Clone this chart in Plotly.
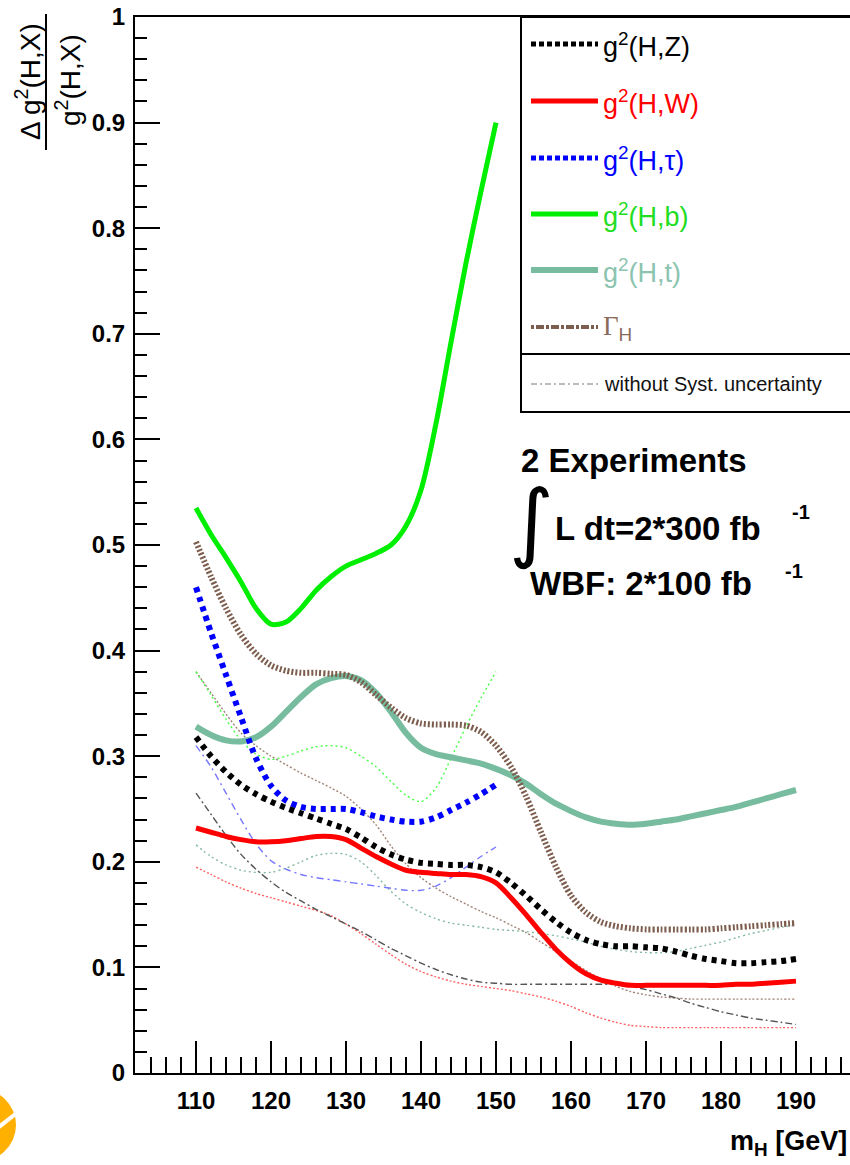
import plotly.graph_objects as go

# ---------------- data ----------------
mass_full = list(range(110, 191, 2))
mass_short = list(range(110, 151, 2))

# with systematic uncertainty (thick lines)
g2_HZ = [0.318, 0.300, 0.285, 0.273, 0.264, 0.257, 0.251, 0.246, 0.241, 0.236,
         0.231, 0.223, 0.214, 0.207, 0.202, 0.199, 0.198, 0.197, 0.197, 0.195,
         0.190, 0.180, 0.168, 0.155, 0.143, 0.133, 0.126, 0.122, 0.120, 0.120,
         0.119, 0.118, 0.115, 0.111, 0.108, 0.106, 0.104, 0.104, 0.105, 0.106, 0.108]
g2_HW = [0.232, 0.228, 0.224, 0.221, 0.219, 0.219, 0.220, 0.222, 0.224, 0.224,
         0.221, 0.213, 0.205, 0.198, 0.192, 0.190, 0.189, 0.188, 0.188, 0.186,
         0.180, 0.166, 0.150, 0.133, 0.117, 0.104, 0.094, 0.088, 0.085, 0.083,
         0.083, 0.083, 0.083, 0.083, 0.083, 0.083, 0.084, 0.084, 0.085, 0.086, 0.087]
g2_Htau = [0.460, 0.417, 0.377, 0.337, 0.298, 0.272, 0.258, 0.252, 0.250, 0.250,
           0.250, 0.247, 0.243, 0.240, 0.238, 0.238, 0.242, 0.249, 0.256, 0.264, 0.273]
g2_Hb = [0.535, 0.510, 0.488, 0.465, 0.440, 0.425, 0.427, 0.440, 0.457, 0.470,
         0.480, 0.486, 0.492, 0.500, 0.518, 0.552, 0.615, 0.692, 0.767, 0.835, 0.900]
g2_Ht = [0.328, 0.320, 0.315, 0.314, 0.318, 0.328, 0.342, 0.356, 0.368, 0.374,
         0.376, 0.372, 0.360, 0.342, 0.322, 0.308, 0.302, 0.299, 0.296, 0.293,
         0.288, 0.282, 0.274, 0.264, 0.255, 0.248, 0.242, 0.238, 0.236, 0.235,
         0.236, 0.238, 0.240, 0.243, 0.246, 0.249, 0.252, 0.256, 0.260, 0.264, 0.268]
Gamma_H = [0.503, 0.470, 0.440, 0.415, 0.397, 0.386, 0.381, 0.379, 0.379, 0.378,
           0.377, 0.370, 0.358, 0.346, 0.336, 0.331, 0.330, 0.330, 0.329, 0.323,
           0.310, 0.290, 0.262, 0.228, 0.195, 0.168, 0.152, 0.143, 0.139, 0.137,
           0.136, 0.136, 0.136, 0.136, 0.136, 0.137, 0.138, 0.139, 0.140, 0.141, 0.142]

# without systematic uncertainty (thin lines)
g2_HZ_nosyst = [0.265, 0.245, 0.225, 0.207, 0.193, 0.181, 0.171, 0.163, 0.155, 0.148,
                0.141, 0.134, 0.126, 0.118, 0.111, 0.104, 0.098, 0.093, 0.089, 0.086,
                0.085, 0.084, 0.084, 0.084, 0.084, 0.084, 0.084, 0.084, 0.084, 0.082,
                0.079, 0.075, 0.071, 0.066, 0.062, 0.058, 0.055, 0.052, 0.050, 0.048, 0.046]
g2_HW_nosyst = [0.195, 0.188, 0.181, 0.175, 0.170, 0.166, 0.162, 0.158, 0.154, 0.149,
                0.141, 0.132, 0.122, 0.112, 0.103, 0.096, 0.091, 0.087, 0.084, 0.082,
                0.080, 0.078, 0.075, 0.072, 0.068, 0.063, 0.057, 0.052, 0.048, 0.045,
                0.044, 0.043, 0.043, 0.043, 0.043, 0.043, 0.043, 0.043, 0.043, 0.043, 0.043]
g2_Htau_nosyst = [0.310, 0.290, 0.265, 0.240, 0.217, 0.201, 0.193, 0.188, 0.185, 0.183,
                  0.181, 0.179, 0.177, 0.175, 0.173, 0.173, 0.177, 0.185, 0.195, 0.205, 0.214]
g2_Hb_nosyst = [0.380, 0.358, 0.335, 0.315, 0.302, 0.297, 0.300, 0.305, 0.309, 0.310,
                0.308, 0.300, 0.290, 0.276, 0.263, 0.257, 0.270, 0.298, 0.328, 0.355, 0.380]
g2_Ht_nosyst = [0.216, 0.205, 0.197, 0.192, 0.190, 0.190, 0.194, 0.200, 0.206, 0.208,
                0.207, 0.200, 0.187, 0.172, 0.160, 0.152, 0.146, 0.142, 0.140, 0.138,
                0.136, 0.135, 0.134, 0.132, 0.130, 0.127, 0.124, 0.120, 0.117, 0.115,
                0.114, 0.114, 0.115, 0.118, 0.121, 0.124, 0.128, 0.132, 0.135, 0.138, 0.140]
Gamma_H_nosyst = [0.380, 0.360, 0.340, 0.322, 0.310, 0.300, 0.292, 0.284, 0.277, 0.270,
                  0.262, 0.250, 0.235, 0.215, 0.198, 0.185, 0.175, 0.167, 0.160, 0.153,
                  0.147, 0.140, 0.133, 0.124, 0.115, 0.106, 0.097, 0.089, 0.082, 0.077,
                  0.074, 0.072, 0.071, 0.070, 0.070, 0.070, 0.070, 0.070, 0.070, 0.070, 0.070]

x_ticks = [110, 120, 130, 140, 150, 160, 170, 180, 190]

# ---------------- styling ----------------
FIG_W, FIG_H = 850, 1165
L, R, T, B = 135, 850, 17, 1073
X_AT_L = 110 - (196 - L) / 7.5
X_AT_R = 110 + (R - 196) / 7.5

C_Z, C_W, C_TAU, C_B, C_T, C_G = "#000000", "#ff0000", "#0000ff", "#00ee00", "#77bc9e", "#7d5e4e"
SANS = "Liberation Sans, Arial, sans-serif"


def px(x):
    return (x - L) / (R - L)


def py(y):
    return (B - y) / (B - T)


fig = go.Figure()

thin = [
    (mass_full, Gamma_H_nosyst, "#a08476", "2px,2px"),
    (mass_full, g2_Ht_nosyst, "#86b9a2", "2px,3px"),
    (mass_short, g2_Hb_nosyst, "#44ff44", "2px,3px"),
    (mass_short, g2_Htau_nosyst, "#7777ff", "7px,4px,2px,4px"),
    (mass_full, g2_HW_nosyst, "#ff6060", "2px,2px"),
    (mass_full, g2_HZ_nosyst, "#555555", "7px,3px,2px,3px"),
]
for xs, ys, col, dash in thin:
    fig.add_trace(go.Scatter(x=xs, y=ys, mode="lines",
                             line=dict(color=col, width=1.4, dash=dash, shape="spline", smoothing=0.8),
                             hoverinfo="skip"))

thick = [
    (mass_full, g2_Ht, C_T, 6, "solid"),
    (mass_full, Gamma_H, C_G, 6, "2px,2px"),
    (mass_short, g2_Hb, C_B, 5, "solid"),
    (mass_short, g2_Htau, C_TAU, 6, "5px,5px"),
    (mass_full, g2_HW, C_W, 5, "solid"),
    (mass_full, g2_HZ, C_Z, 6, "5px,5px"),
]
for xs, ys, col, w, dash in thick:
    fig.add_trace(go.Scatter(x=xs, y=ys, mode="lines",
                             line=dict(color=col, width=w, dash=dash, shape="spline", smoothing=0.8),
                             hoverinfo="skip"))

shapes = []
annotations = []

# legend box
lx0, ly0, ly1, ldiv = 521, 17, 412, 354
shapes.append(dict(type="rect", xref="paper", yref="paper", x0=px(lx0), x1=px(870), y0=py(ly1), y1=py(ly0),
                   line=dict(color="black", width=2), fillcolor="white", layer="above"))
shapes.append(dict(type="line", xref="paper", yref="paper", x0=px(lx0), x1=px(870), y0=py(ldiv), y1=py(ldiv),
                   line=dict(color="black", width=2), layer="above"))

leg = [
    ("g<sup>2</sup>(H,Z)", C_Z, C_Z, 5, "5px,3px"),
    ("g<sup>2</sup>(H,W)", C_W, C_W, 5, "solid"),
    ("g<sup>2</sup>(H,τ)", C_TAU, C_TAU, 5, "5px,3px"),
    ("g<sup>2</sup>(H,b)", C_B, "#22dd22", 5, "solid"),
    ("g<sup>2</sup>(H,t)", C_T, "#8cc4b0", 6, "solid"),
    ("<span style='font-family:Liberation Serif'>Γ</span><sub>H</sub>", C_G, "#8a6a5a", 4, "3px,2px,8px,2px"),
]
ys_leg = [44, 101, 158, 214, 270, 327]
for (txt, lc, tc, w, dash), yy in zip(leg, ys_leg):
    shapes.append(dict(type="line", xref="paper", yref="paper", x0=px(531), x1=px(598), y0=py(yy), y1=py(yy),
                       line=dict(color=lc, width=w, dash=dash), layer="above"))
    annotations.append(dict(xref="paper", yref="paper", x=px(601), y=py(yy + 1), text=txt, showarrow=False,
                            xanchor="left", yanchor="middle", font=dict(family=SANS, size=27, color=tc)))
shapes.append(dict(type="line", xref="paper", yref="paper", x0=px(531), x1=px(598), y0=py(384), y1=py(384),
                   line=dict(color="#777777", width=1, dash="6px,3px,2px,3px"), layer="above"))
annotations.append(dict(xref="paper", yref="paper", x=px(602), y=py(384), text="without Syst. uncertainty",
                        showarrow=False, xanchor="left", yanchor="middle",
                        font=dict(family=SANS, size=20, color="#111111")))

# info text
BOLD = dict(family=SANS, size=33, color="black")
annotations += [
    dict(xref="paper", yref="paper", x=px(519), y=py(461), text="<b>2 Experiments</b>", showarrow=False,
         xanchor="left", yanchor="middle", font=BOLD),
    dict(xref="paper", yref="paper", x=px(531), y=py(521), text="∫", showarrow=False,
         xanchor="center", yanchor="middle", font=dict(family="DejaVu Sans", size=86, color="black")),
    dict(xref="paper", yref="paper", x=px(553), y=py(528), text="<b>L dt=2*300 fb</b>", showarrow=False,
         xanchor="left", yanchor="middle", font=BOLD),
    dict(xref="paper", yref="paper", x=px(790), y=py(512), text="<b>-1</b>", showarrow=False,
         xanchor="left", yanchor="middle", font=dict(family=SANS, size=20, color="black")),
    dict(xref="paper", yref="paper", x=px(528), y=py(583), text="<b>WBF: 2*100 fb</b>", showarrow=False,
         xanchor="left", yanchor="middle", font=BOLD),
    dict(xref="paper", yref="paper", x=px(783), y=py(571), text="<b>-1</b>", showarrow=False,
         xanchor="left", yanchor="middle", font=dict(family=SANS, size=20, color="black")),
    # x title
    dict(xref="paper", yref="paper", x=px(849), y=py(1143), text="<b>m<sub>H</sub> [GeV]</b>", showarrow=False,
         xanchor="right", yanchor="middle", font=dict(family=SANS, size=27, color="black")),
    # y title (fraction)
    dict(xref="paper", yref="paper", x=px(28), y=py(82), text="Δ g<sup>2</sup>(H,X)", showarrow=False,
         textangle=-90, xanchor="center", yanchor="middle", font=dict(family=SANS, size=28, color="black")),
    dict(xref="paper", yref="paper", x=px(68), y=py(80), text="g<sup>2</sup>(H,X)", showarrow=False,
         textangle=-90, xanchor="center", yanchor="middle", font=dict(family=SANS, size=28, color="black")),
]
shapes.append(dict(type="line", xref="paper", yref="paper", x0=px(46), x1=px(46), y0=py(150), y1=py(14),
                   line=dict(color="black", width=2)))

# orange logo fragment in the bottom-left corner
shapes.append(dict(type="circle", xref="paper", yref="paper", x0=px(-62), x1=px(16), y0=py(1162), y1=py(1088),
                   fillcolor="#ffb000", line=dict(width=0)))
shapes.append(dict(type="line", xref="paper", yref="paper", x0=px(-5), x1=px(18), y0=py(1130), y1=py(1112),
                   line=dict(color="white", width=4)))

fig.update_layout(
    width=FIG_W, height=FIG_H,
    margin=dict(l=L, r=FIG_W - R, t=T, b=FIG_H - B, pad=0),
    paper_bgcolor="white", plot_bgcolor="white",
    showlegend=False,
    shapes=shapes, annotations=annotations,
    xaxis=dict(range=[X_AT_L, X_AT_R], showgrid=False, zeroline=False,
               showline=True, linecolor="black", linewidth=2, mirror=True,
               tickmode="array", tickvals=x_ticks, ticktext=[f"<b>{v}</b>" for v in x_ticks],
               ticks="inside", ticklen=32, tickwidth=2, tickcolor="black",
               ticklabelstandoff=5,
               tickfont=dict(family=SANS, size=24, color="black"),
               minor=dict(ticks="inside", dtick=2, tick0=110, ticklen=16, tickwidth=1.5, tickcolor="black")),
    yaxis=dict(range=[0, 1], showgrid=False, zeroline=False,
               showline=True, linecolor="black", linewidth=2, mirror=False,
               tickmode="linear", tick0=0, dtick=0.1, tickformat="~g",
               ticks="inside", ticklen=25, tickwidth=2, tickcolor="black",
               ticklabelstandoff=3,
               tickfont=dict(family=SANS, size=24, color="black", weight="bold"),
               minor=dict(ticks="inside", dtick=0.02, tick0=0, ticklen=12, tickwidth=1.5, tickcolor="black")),
)

fig.write_html("out.html")
